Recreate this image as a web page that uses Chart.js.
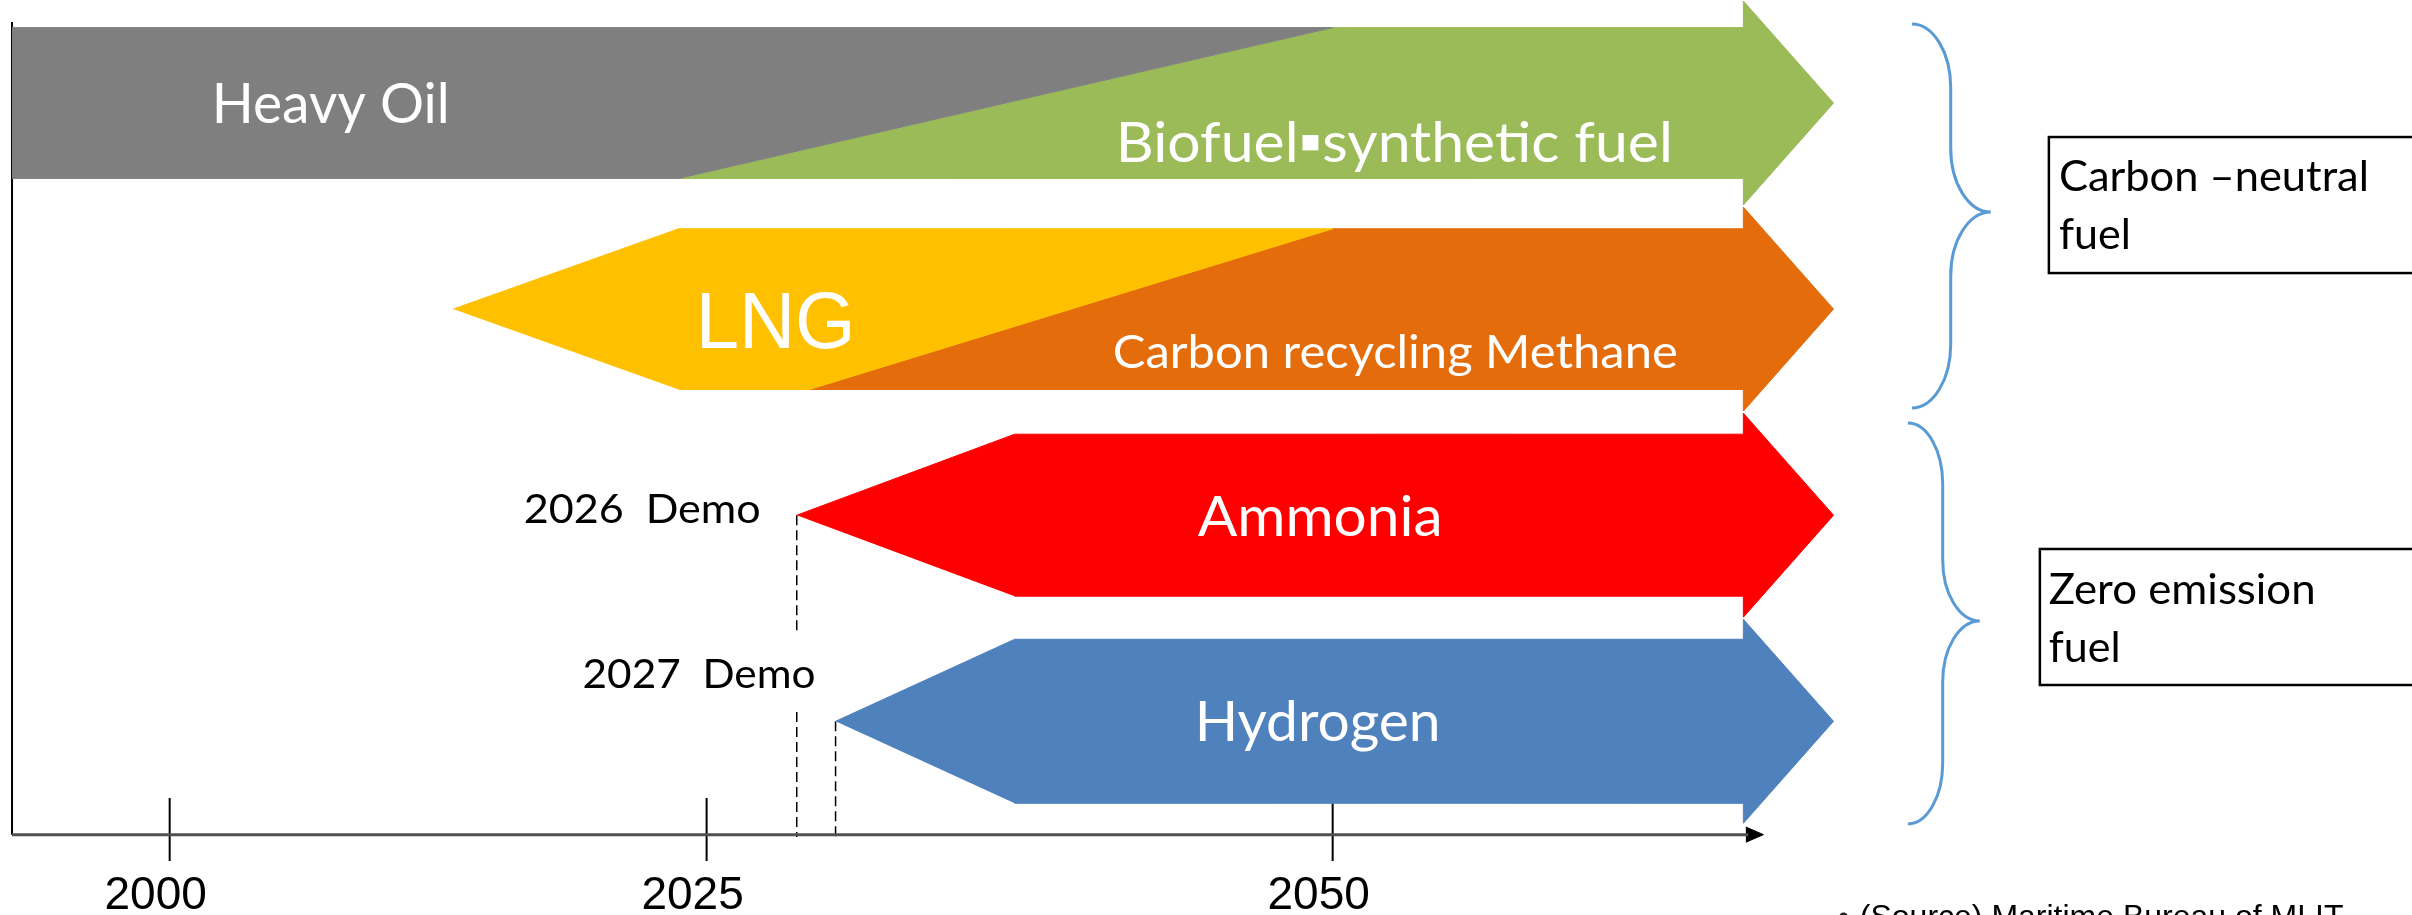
<!DOCTYPE html>
<html>
<head>
<meta charset="utf-8">
<title>Marine fuel roadmap</title>
<script src="https://cdn.jsdelivr.net/npm/chart.js@4.4.1/dist/chart.umd.min.js"></script>
<style>
  html, body { margin: 0; padding: 0; background: #fff; }
  #wrap { width: 2412px; height: 915px; position: relative; }
</style>
</head>
<body>
<div id="wrap"><canvas id="fuelChart"></canvas></div>
<script>
// fuels, lane 4 = top row, lane 1 = bottom row
const fuelNames = ['Heavy Oil', 'Biofuel\u25AAsynthetic fuel', 'LNG', 'Carbon recycling Methane', 'Ammonia', 'Hydrogen'];
const fuelLane = [4, 4, 3, 3, 2, 1];
// years where each band begins / ends (top edge, bottom edge, pointed tip)
const tipStart = [null, null, 2013.2, null, 2028.6, 2030.15];
const topStart = [1992.66, 2050, 2023.7, 2050, 2037.3, 2037.3];
const bottomStart = [1992.66, 2023.7, 2023.7, 2029.1, 2037.3, 2037.3];
const topEnd = [2050, 2066.4, 2050, 2066.4, 2066.4, 2066.4];
const bottomEnd = [2023.7, 2066.4, 2029.1, 2066.4, 2066.4, 2066.4];
const tipEnd = [null, 2070, null, 2070, 2070, 2070];

const yearTicks = [2000, 2025, 2050];
const yearLabels = ['2000', '2025', '2050'];

const demoLabels = ['2026  Demo', '2027  Demo'];
const demoYears = [2028.6, 2030.15];
const demoLanes = [2, 1];

const groupNames = [['Carbon \u2013neutral', 'fuel'], ['Zero emission', 'fuel']];
const sourceNote = '(Source) Maritime Bureau of MLIT';

// ---- styles ----
const fuelColors = ['#7F7F7F', '#9BBB59', '#FFC000', '#E46C0A', '#FF0000', '#4F81BD'];
const shaftHalf = {4: 0.366, 3: 0.39, 2: 0.393, 1: 0.398};
const HEAD_HALF = 0.495;
const AXIS_Y = 0.45;
const AXIS_START = 1992.66, AXIS_END = 2066.6;

// the timeline is drawn a bit wider after 2025
const STRETCH_FROM = 2025, STRETCH = 1.166;
function stretchYear(v) { return v <= STRETCH_FROM ? v : STRETCH_FROM + (v - STRETCH_FROM) * STRETCH; }
function unstretchYear(u) { return u <= STRETCH_FROM ? u : STRETCH_FROM + (u - STRETCH_FROM) / STRETCH; }

class TimelineScale extends Chart.LinearScale {
  getPixelForValue(value) {
    if (value === null || value === undefined || isNaN(value)) return NaN;
    const a = stretchYear(this.min), b = stretchYear(this.max);
    return this.getPixelForDecimal((stretchYear(value) - a) / (b - a));
  }
  getValueForPixel(pixel) {
    const a = stretchYear(this.min), b = stretchYear(this.max);
    return unstretchYear(a + this.getDecimalForPixel(pixel) * (b - a));
  }
}
TimelineScale.id = 'timeline';
TimelineScale.defaults = Chart.LinearScale.defaults;
Chart.register(TimelineScale);

function bandPoints(i) {
  const lane = fuelLane[i], s = shaftHalf[lane], h = HEAD_HALF;
  const pts = [];
  if (tipStart[i] !== null) pts.push({x: tipStart[i], y: lane});
  pts.push({x: topStart[i], y: lane + s});
  pts.push({x: topEnd[i], y: lane + s});
  if (tipEnd[i] !== null) {
    pts.push({x: topEnd[i], y: lane + h});
    pts.push({x: tipEnd[i], y: lane});
    pts.push({x: bottomEnd[i], y: lane - h});
  }
  pts.push({x: bottomEnd[i], y: lane - s});
  pts.push({x: bottomStart[i], y: lane - s});
  return pts;
}

var datasets = fuelNames.map(function (name, i) {
  return {
    label: name,
    data: bandPoints(i),
    showLine: true,
    fill: 'shape',
    backgroundColor: fuelColors[i],
    borderColor: fuelColors[i],
    borderWidth: 1,
    pointRadius: 0,
    clip: false
  };
});

function lineSet(points, color, width, dash) {
  return {
    data: points, showLine: true, fill: false, pointRadius: 0,
    borderColor: color, borderWidth: width, borderDash: dash || [], clip: false
  };
}

// time axis with arrow head
datasets.push(lineSet([{x: AXIS_START, y: AXIS_Y}, {x: AXIS_END, y: AXIS_Y}], '#505050', 3));
datasets.push({
  data: [{x: AXIS_END - 0.1, y: AXIS_Y + 0.037}, {x: 2067.2, y: AXIS_Y}, {x: AXIS_END - 0.1, y: AXIS_Y - 0.037}],
  showLine: true, fill: 'shape', backgroundColor: '#000', borderColor: '#000', borderWidth: 1, pointRadius: 0, clip: false
});
// vertical axis
datasets.push(lineSet([{x: AXIS_START, y: 4.393}, {x: AXIS_START, y: AXIS_Y}], '#000', 2));
// year tick marks
var tickPts = [];
yearTicks.forEach(function (t) {
  tickPts.push({x: t, y: 0.628}, {x: t, y: 0.322}, {x: t, y: null});
});
datasets.push(lineSet(tickPts, '#000', 2));
// dashed demo markers
datasets.push(lineSet([
  {x: demoYears[0], y: demoLanes[0]}, {x: demoYears[0], y: 1.428}, {x: demoYears[0], y: null},
  {x: demoYears[0], y: 1.045}, {x: demoYears[0], y: 0.438}
], '#000', 1.5, [10, 5]));
datasets.push(lineSet([{x: demoYears[1], y: demoLanes[1]}, {x: demoYears[1], y: 0.424}], '#000', 1.5, [10, 5]));

// label placement (year / lane coordinates)
const fuelLabelStyle = [
  {x: 2001.96, y: 3.903, align: 'left', font: '57px Lato', width: 238},
  {x: 2041.34, y: 3.714, align: 'left', font: '57px Lato', width: 557},
  {x: 2024.49, y: 2.811, align: 'left', font: '79px "Liberation Sans"', width: 160},
  {x: 2041.22, y: 2.714, align: 'left', font: '46px Lato', width: 565},
  {x: 2049.5, y: 1.899, align: 'center', font: '57px Lato', width: 245},
  {x: 2049.4, y: 0.904, align: 'center', font: '57px Lato', width: 246}
];
const demoLabelStyle = [
  {x: 2027.16, y: 1.962, width: 237},
  {x: 2029.35, y: 1.161, width: 233}
];
const groupStyle = [
  {brace: {xEnd: 2073.13, xStem: 2074.68, xTip: 2076.28, yTop: 4.384, yMid: 3.471, yBot: 2.52, r: 0.31},
   box: {x: 2078.6, top: 3.835, bottom: 3.175}, textX: 2079.0, lines: [3.573, 3.292], widths: [310, 72]},
  {brace: {xEnd: 2072.97, xStem: 2074.36, xTip: 2075.84, yTop: 2.447, yMid: 1.487, yBot: 0.502, r: 0.296},
   box: {x: 2078.24, top: 1.836, bottom: 1.176}, textX: 2078.59, lines: [1.569, 1.288], widths: [267, 72]}
];

function fittedText(ctx, text, x, y, font, width, align, color) {
  ctx.save();
  ctx.font = font;
  ctx.fillStyle = color;
  ctx.textAlign = align;
  ctx.textBaseline = 'alphabetic';
  var w = ctx.measureText(text).width;
  var sx = width ? width / w : 1;
  ctx.translate(x, y);
  ctx.scale(sx, 1);
  ctx.fillText(text, 0, 0);
  ctx.restore();
}

function drawBrace(ctx, X, Y, b) {
  var k = 0.5523;
  var x0 = X(b.xEnd), x1 = X(b.xStem), x2 = X(b.xTip);
  var yT = Y(b.yTop), yM = Y(b.yMid), yB = Y(b.yBot);
  var r = Y(b.yTop - b.r) - yT;
  ctx.beginPath();
  ctx.moveTo(x0, yT);
  ctx.bezierCurveTo(x0 + k * (x1 - x0), yT, x1, yT + r - k * r, x1, yT + r);
  ctx.lineTo(x1, yM - r);
  ctx.bezierCurveTo(x1, yM - r + k * r, x2 - k * (x2 - x1), yM, x2, yM);
  ctx.bezierCurveTo(x2 - k * (x2 - x1), yM, x1, yM + r - k * r, x1, yM + r);
  ctx.lineTo(x1, yB - r);
  ctx.bezierCurveTo(x1, yB - r + k * r, x0 + k * (x1 - x0), yB, x0, yB);
  ctx.stroke();
}

const annotations = {
  id: 'annotations',
  afterDatasetsDraw: function (chart) {
    var ctx = chart.ctx;
    var X = function (v) { return chart.scales.x.getPixelForValue(v); };
    var Y = function (v) { return chart.scales.y.getPixelForValue(v); };

    fuelNames.forEach(function (name, i) {
      var st = fuelLabelStyle[i];
      fittedText(ctx, name, X(st.x), Y(st.y), st.font, st.width, st.align, '#fff');
    });

    demoLabels.forEach(function (txt, i) {
      var st = demoLabelStyle[i];
      fittedText(ctx, txt, X(st.x), Y(st.y), '41px Lato', st.width, 'right', '#000');
    });

    groupNames.forEach(function (lines, i) {
      var g = groupStyle[i];
      ctx.save();
      ctx.strokeStyle = '#5B9BD5';
      ctx.lineWidth = 3;
      drawBrace(ctx, X, Y, g.brace);
      ctx.strokeStyle = '#000';
      ctx.lineWidth = 2.5;
      var bx = X(g.box.x), by = Y(g.box.top);
      ctx.strokeRect(bx, by, chart.width + 20 - bx, Y(g.box.bottom) - by);
      ctx.restore();
      lines.forEach(function (t, j) {
        fittedText(ctx, t, X(g.textX), Y(g.lines[j]), '43px Lato', g.widths[j], 'left', '#000');
      });
    });

    fittedText(ctx, '\u2022', X(2070.18), Y(0), '32px "Liberation Sans"', null, 'left', '#222');
    fittedText(ctx, sourceNote, X(2071.05), Y(0), '32px "Liberation Sans"', null, 'left', '#000');
  }
};

var ctx = document.getElementById('fuelChart').getContext('2d');
var myChart = new Chart(ctx, {
  type: 'scatter',
  data: { datasets: datasets },
  options: {
    responsive: true,
    maintainAspectRatio: false,
    animation: false,
    events: [],
    layout: { padding: 0 },
    plugins: { legend: { display: false }, tooltip: { enabled: false } },
    scales: {
      x: {
        type: 'timeline',
        min: 1992.1,
        max: 2093.1,
        position: { y: AXIS_Y },
        grid: { display: false, drawTicks: false },
        border: { display: false },
        afterBuildTicks: function (scale) {
          scale.ticks = yearTicks.map(function (v) { return { value: v }; });
        },
        ticks: {
          callback: function (v, i) { return yearLabels[i]; },
          font: { family: '"Liberation Sans", Arial, sans-serif', size: 46 },
          color: '#000',
          padding: 34,
          labelOffset: -14,
          maxRotation: 0,
          autoSkip: false
        }
      },
      y: { type: 'linear', min: 0.06, max: 4.5, display: false }
    }
  },
  plugins: [annotations]
});
</script>
</body>
</html>
